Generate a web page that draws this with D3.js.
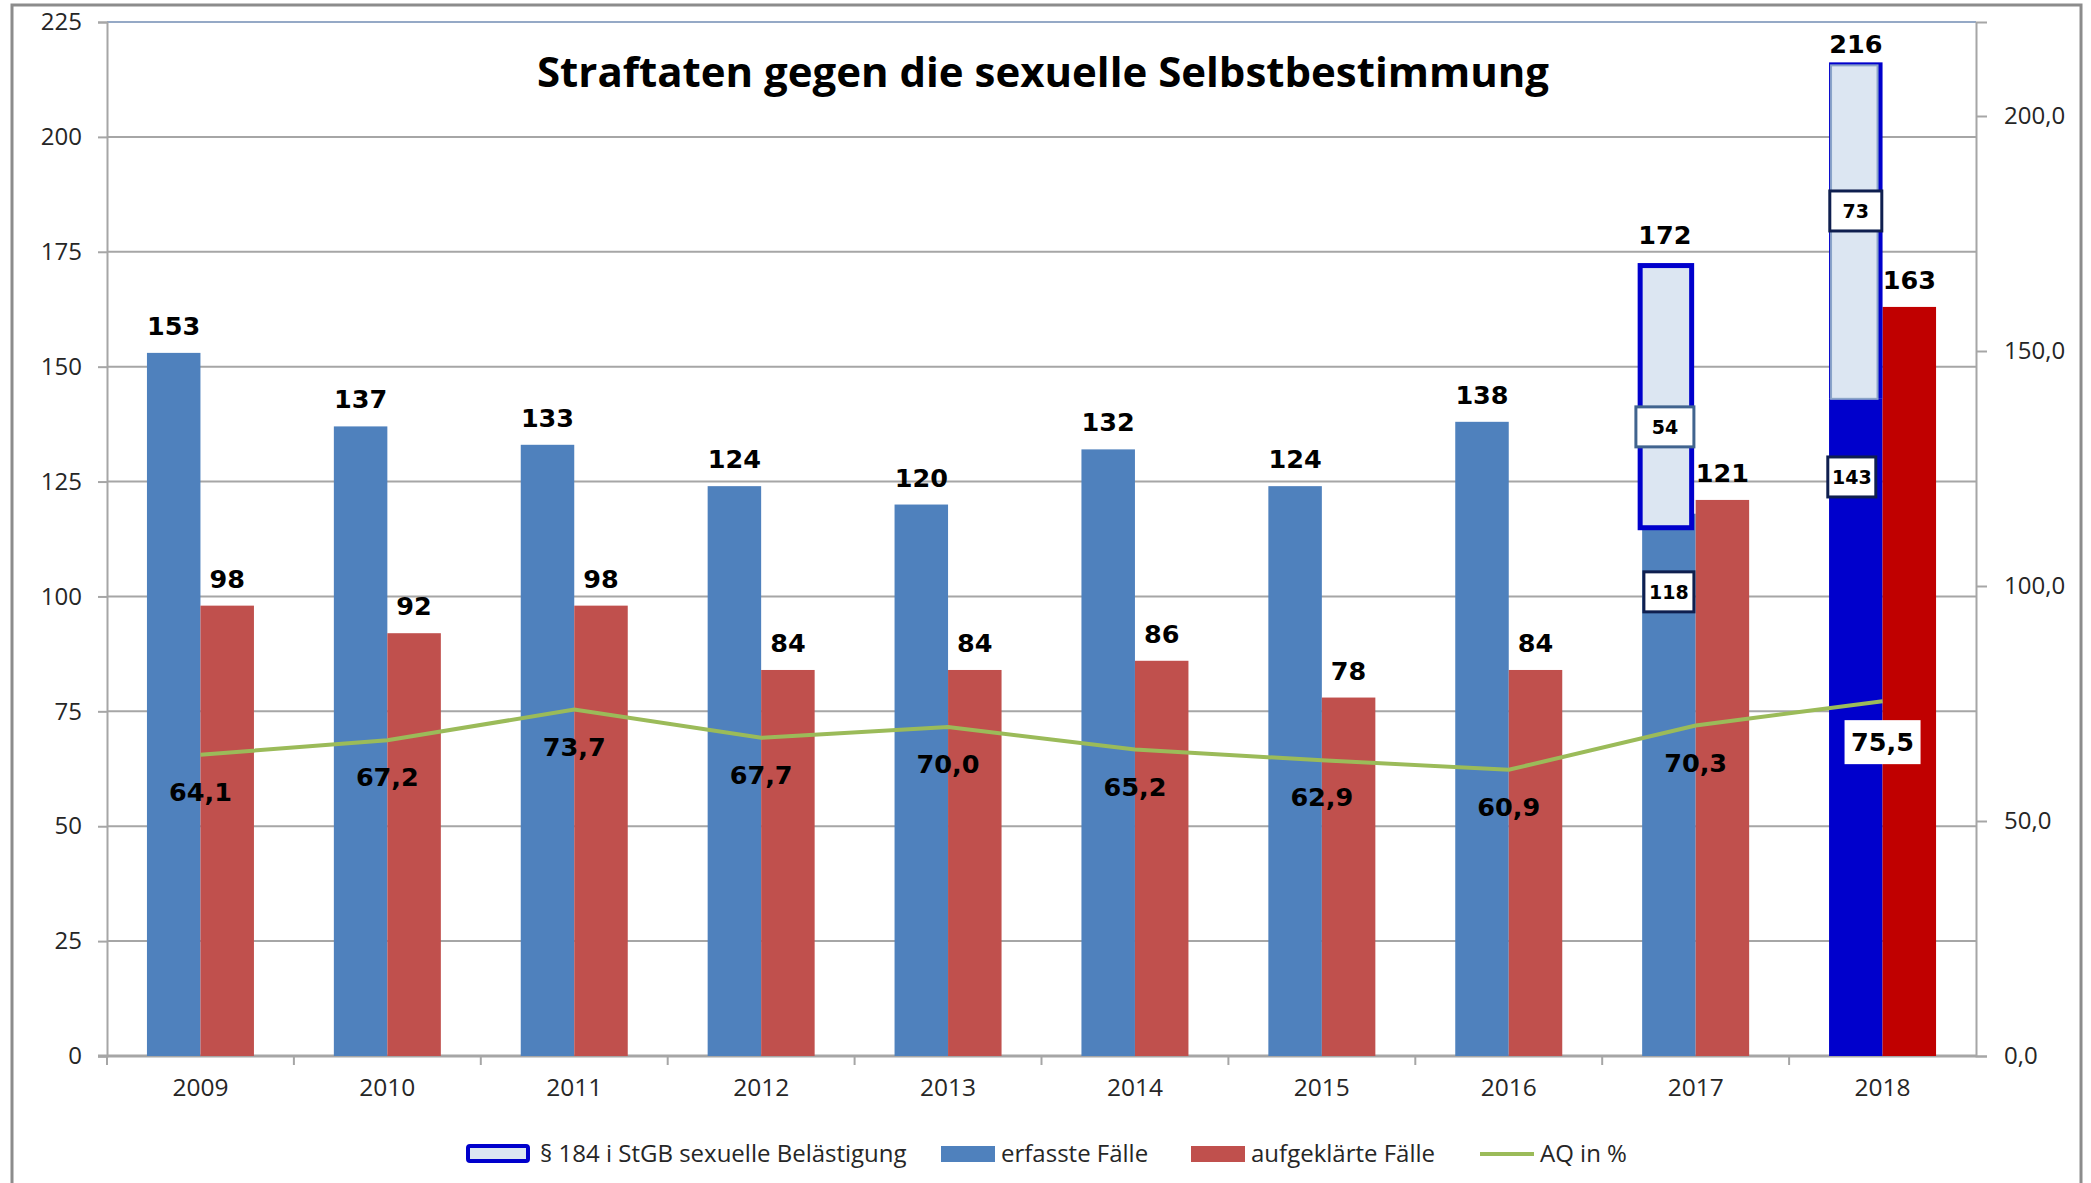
<!DOCTYPE html>
<meta charset="utf-8">
<script src="https://d3js.org/d3.v7.min.js"></script>
<style>
  body { margin: 0; background: #fff; }
</style>
<div id="chart"></div>
<script>

// data
var years = ["2009","2010","2011","2012","2013","2014","2015","2016","2017","2018"];
var erfasst = [153, 137, 133, 124, 120, 132, 124, 138, 118, 143];
var aufgeklaert = [98, 92, 98, 84, 84, 86, 78, 84, 121, 163];
var belaestigung = [0, 0, 0, 0, 0, 0, 0, 0, 54, 73];
var aq = [64.1, 67.2, 73.7, 67.7, 70.0, 65.2, 62.9, 60.9, 70.3, 75.5];
var leftTicks = [0, 25, 50, 75, 100, 125, 150, 175, 200, 225];
var rightTicks = [0, 50, 100, 150, 200];
var legendLabels = ["§ 184 i StGB sexuelle Belästigung", "erfasste Fälle", "aufgeklärte Fälle", "AQ in %"];
var title = "Straftaten gegen die sexuelle Selbstbestimmung";

var W = 2091, H = 1183;
var plot = {left: 107, right: 1976, top: 22, bottom: 1056};
var fmt = function(v) { return v.toFixed(1).replace(".", ","); };

var svg = d3.select("#chart").append("svg")
    .attr("width", W).attr("height", H);

// outer frame
svg.append("rect")
    .attr("x", 12).attr("y", 5)
    .attr("width", 2069).attr("height", 1200)
    .attr("fill", "#fff").attr("stroke", "#8c8c8c").attr("stroke-width", 3);

var x = d3.scaleBand().domain(years).range([plot.left, plot.right]);
var pair = 107;
var xs = d3.scaleBand().domain(["e", "a"])
    .range([(x.bandwidth() - pair) / 2, (x.bandwidth() + pair) / 2]);
var yL = d3.scaleLinear().domain([0, 225]).range([plot.bottom, plot.top]);
var yR = d3.scaleLinear().domain([0, 220]).range([plot.bottom, plot.top]);

// gridlines
svg.append("g").selectAll("line")
    .data(leftTicks.slice(1))
    .enter().append("line")
    .attr("x1", plot.left).attr("x2", plot.right)
    .attr("y1", function(d) { return yL(d); })
    .attr("y2", function(d) { return yL(d); })
    .attr("stroke", function(d) { return d === 225 ? "#95a9c6" : "#a6a6a6"; })
    .attr("stroke-width", 2);

// left axis
var gl = svg.append("g")
    .attr("transform", "translate(" + plot.left + ",0)")
    .call(d3.axisLeft(yL).tickValues(leftTicks).tickSize(9).tickPadding(16));
gl.select(".domain").attr("stroke", "#a6a6a6").attr("stroke-width", 2);
gl.selectAll(".tick line").attr("stroke", "#a6a6a6").attr("stroke-width", 2);
gl.selectAll("text").style("font-family", "Open Sans").style("font-size", "24px").attr("fill", "#262626");

// right axis
var gr = svg.append("g")
    .attr("transform", "translate(" + plot.right + ",0)")
    .call(d3.axisRight(yR).tickValues(rightTicks).tickSize(11).tickPadding(17).tickFormat(fmt));
gr.select(".domain").attr("stroke", "#a6a6a6").attr("stroke-width", 2);
gr.selectAll(".tick line").attr("stroke", "#a6a6a6").attr("stroke-width", 2);
gr.selectAll("text").style("font-family", "Open Sans").style("font-size", "24px").attr("fill", "#262626");

// x axis: labels centred, ticks on band edges
var gx = svg.append("g")
    .attr("transform", "translate(0," + plot.bottom + ")")
    .call(d3.axisBottom(x).tickSize(0).tickPadding(23));
gx.select(".domain").remove();
gx.selectAll("text").style("font-family", "Open Sans").style("font-size", "24.5px").attr("fill", "#262626");
svg.append("g").selectAll("line")
    .data(years)
    .enter().append("line")
    .attr("x1", function(d) { return x(d); })
    .attr("x2", function(d) { return x(d); })
    .attr("y1", plot.bottom).attr("y2", plot.bottom + 9)
    .attr("stroke", "#a6a6a6").attr("stroke-width", 2);
svg.append("line")
    .attr("x1", plot.left - 9).attr("x2", plot.right)
    .attr("y1", plot.bottom).attr("y2", plot.bottom)
    .attr("stroke", "#a6a6a6").attr("stroke-width", 3);

var rows = years.map(function(y, i) {
    return {year: y, e: erfasst[i], a: aufgeklaert[i], b: belaestigung[i], q: aq[i], last: i === years.length - 1};
});

// bars
var bars = svg.append("g");
bars.selectAll(".be").data(rows).enter().append("rect")
    .attr("x", function(d) { return x(d.year) + xs("e"); })
    .attr("width", xs.bandwidth())
    .attr("y", function(d) { return yL(d.e); })
    .attr("height", function(d) { return yL(0) - yL(d.e); })
    .attr("fill", function(d) { return d.last ? "#0000cc" : "#4f81bd"; });
bars.selectAll(".ba").data(rows).enter().append("rect")
    .attr("x", function(d) { return x(d.year) + xs("a"); })
    .attr("width", xs.bandwidth())
    .attr("y", function(d) { return yL(d.a); })
    .attr("height", function(d) { return yL(0) - yL(d.a); })
    .attr("fill", function(d) { return d.last ? "#c00000" : "#c0504d"; });

// § 184 i boxes stacked on erfasste Fälle
var stacked = rows.filter(function(d) { return d.b > 0; });
stacked.forEach(function(d) {
    var x0 = x(d.year) + xs("e");
    var top = yL(d.e + d.b), bot = yL(d.e);
    if (d.last) {
        // blue frame behind, light box with grey edge in front
        bars.append("rect")
            .attr("x", x0).attr("y", top - 1)
            .attr("width", xs.bandwidth()).attr("height", bot - top + 1)
            .attr("fill", "#0000cc");
        bars.append("rect")
            .attr("x", x0 + 2).attr("y", top + 2)
            .attr("width", xs.bandwidth() - 7).attr("height", bot - top - 2)
            .attr("fill", "#dce6f2").attr("stroke", "#8aa4c8").attr("stroke-width", 2);
    } else {
        bars.append("rect")
            .attr("x", x0 - 2).attr("y", top)
            .attr("width", xs.bandwidth() - 2).attr("height", bot - top + 14)
            .attr("fill", "#dce6f2").attr("stroke", "#0000cc").attr("stroke-width", 5);
    }
});

// AQ line on right axis
var line = d3.line()
    .x(function(d) { return x(d.year) + x.bandwidth() / 2; })
    .y(function(d) { return yR(d.q); });
svg.append("path").datum(rows)
    .attr("d", line)
    .attr("fill", "none").attr("stroke", "#9bbb59").attr("stroke-width", 4);

// value labels above bars
var lbl = svg.append("g")
    .style("font-family", "DejaVu Sans").style("font-weight", "bold").style("font-size", "25.5px")
    .attr("text-anchor", "middle").attr("fill", "#000");
lbl.selectAll(".le").data(rows).enter().append("text")
    .attr("x", function(d) { return x(d.year) + xs("e") + xs.bandwidth() / 2 - (d.b && !d.last ? 4 : 0); })
    .attr("y", function(d) { return yL(d.e + d.b) - (d.last ? 10 : d.b ? 22 : 18); })
    .text(function(d) { return d.e + d.b; });
lbl.selectAll(".la").data(rows).enter().append("text")
    .attr("x", function(d) { return x(d.year) + xs("a") + xs.bandwidth() / 2; })
    .attr("y", function(d) { return yL(d.a) - 18; })
    .text(function(d) { return d.a; });

// boxed labels inside stacked bars
var boxAt = [0.35, 0.56];
function boxLabel(cx, cy, txt, stroke, w) {
    var g = svg.append("g");
    g.append("rect")
        .attr("x", cx - w / 2).attr("y", cy - 20).attr("width", w).attr("height", 40)
        .attr("fill", "#fff").attr("stroke", stroke).attr("stroke-width", 3);
    g.append("text")
        .attr("x", cx).attr("y", cy + 7)
        .attr("text-anchor", "middle")
        .style("font-family", "DejaVu Sans").style("font-weight", "bold").style("font-size", "19px")
        .text(txt);
}
stacked.forEach(function(d, i) {
    var cx = x(d.year) + xs("e") + xs.bandwidth() / 2 - 2;
    boxLabel(cx + (d.last ? 2 : -2), yL(d.e + boxAt[i] * d.b), d.b, d.last ? "#0f1f4f" : "#41648f", d.last ? 52 : 58);
    boxLabel(cx + (d.last ? -2 : 2), yL(d.e - 17), d.e, "#0f1f4f", d.last ? 48 : 50);
});

// AQ labels
var ql = svg.append("g");
rows.forEach(function(d) {
    var cx = x(d.year) + x.bandwidth() / 2;
    var cy = yR(d.q) + (d.last ? 41 : 37);
    if (d.last) {
        ql.append("rect")
            .attr("x", cx - 38).attr("y", cy - 22).attr("width", 76).attr("height", 44)
            .attr("fill", "#fff");
    }
    ql.append("text")
        .attr("x", cx).attr("y", cy + 9)
        .attr("text-anchor", "middle")
        .style("font-family", "DejaVu Sans").style("font-weight", "bold").style("font-size", "25.5px")
        .text(fmt(d.q));
});

// title
svg.append("text")
    .attr("x", 1043).attr("y", 87)
    .attr("text-anchor", "middle")
    .attr("textLength", 1012).attr("lengthAdjust", "spacingAndGlyphs")
    .style("font-family", "Open Sans").style("font-weight", "bold").style("font-size", "42px")
    .text(title);

// legend
var legY = 1154;
var leg = svg.append("g").style("font-family", "Open Sans").style("font-size", "24px").attr("fill", "#262626");
var legX = [466, 941, 1191, 1480];
leg.append("rect").attr("x", legX[0] + 2).attr("y", legY - 8).attr("width", 60).attr("height", 15)
    .attr("fill", "#dce6f2").attr("stroke", "#0000cc").attr("stroke-width", 4).attr("rx", 2);
leg.append("rect").attr("x", legX[1]).attr("y", legY - 8).attr("width", 54).attr("height", 16).attr("fill", "#4f81bd");
leg.append("rect").attr("x", legX[2]).attr("y", legY - 8).attr("width", 54).attr("height", 16).attr("fill", "#c0504d");
leg.append("line").attr("x1", legX[3]).attr("x2", legX[3] + 54).attr("y1", legY).attr("y2", legY)
    .attr("stroke", "#9bbb59").attr("stroke-width", 4);
leg.selectAll("text").data(legendLabels).enter().append("text")
    .attr("x", function(d, i) { return legX[i] + (i === 0 ? 74 : 60); })
    .attr("y", legY + 8)
    .text(function(d) { return d; });

</script>
